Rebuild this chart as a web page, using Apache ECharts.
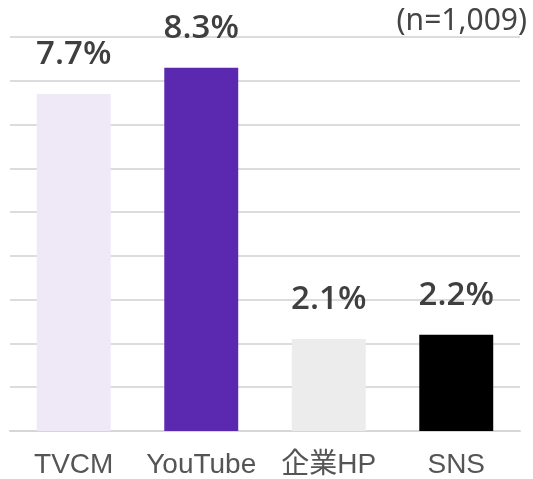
<!DOCTYPE html>
<html>
<head>
<meta charset="utf-8">
<script src="https://cdn.jsdelivr.net/npm/echarts@6/dist/echarts.min.js"></script>
<style>
  html, body { margin: 0; padding: 0; background: #fff; }
  #chart { width: 533px; height: 479px; }
</style>
</head>
<body>
<div id="chart"></div>
<script>
  // data
  let categories = ['TVCM', 'YouTube', '企業HP', 'SNS']
  let values = [7.7, 8.3, 2.1, 2.2]
  let barColors = ['#efe9f7', '#5b29b0', '#ececec', '#000000']
  let sampleNote = '(n=1,009)'

  let chart = echarts.init(document.getElementById('chart'))

  let seriesData = []
  values.forEach((v, i) => {
    seriesData.push({
      value: v,
      itemStyle: { color: barColors[i] }
    })
  })

  let option = {
    animation: false,
    graphic: [{
      type: 'text',
      right: 6,
      top: 6,
      style: {
        text: sampleNote,
        fontSize: 30,
        fontFamily: 'Noto Sans',
        fill: '#444'
      }
    }],
    grid: {
      top: 37,
      left: 10,
      right: 13,
      bottom: 47,
      containLabel: false
    },
    xAxis: {
      type: 'category',
      data: categories,
      axisLine: { lineStyle: { color: '#d6d6d6', width: 2 } },
      axisTick: { show: false },
      axisLabel: {
        interval: 0,
        margin: 20,
        fontSize: 28,
        color: '#555',
        fontFamily: 'Liberation Sans, Noto Sans CJK JP, sans-serif'
      }
    },
    yAxis: {
      type: 'value',
      min: 0,
      max: 9,
      interval: 1,
      axisLabel: { show: false },
      axisLine: { show: false },
      axisTick: { show: false },
      splitLine: { lineStyle: { color: '#dcdcdc', width: 2 } }
    },
    series: [{
      type: 'bar',
      barWidth: '58%',
      data: seriesData,
      label: {
        show: true,
        position: 'top',
        distance: 23,
        formatter: p => p.value.toFixed(1) + '%',
        fontSize: 33,
        fontWeight: 600,
        color: '#3f3f3f',
        fontFamily: 'Open Sans'
      }
    }]
  }
  chart.setOption(option)
</script>
</body>
</html>
